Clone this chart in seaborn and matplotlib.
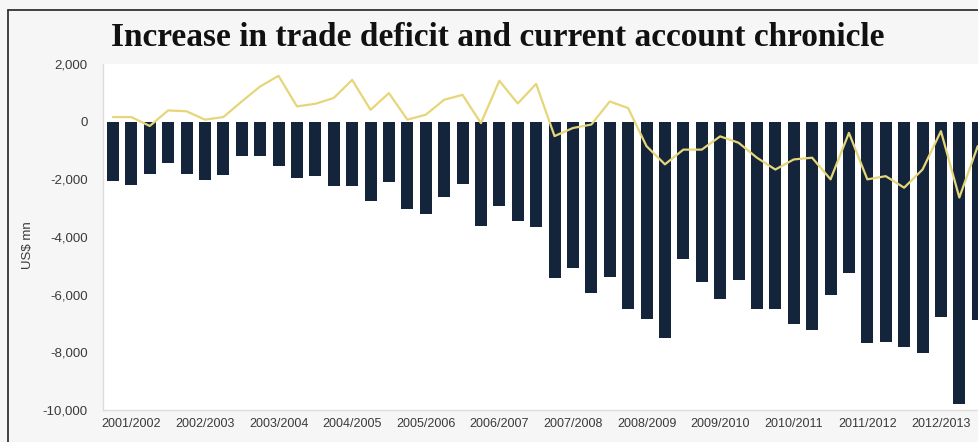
import matplotlib
matplotlib.use("Agg")
import matplotlib.pyplot as plt
import seaborn as sns
import pandas as pd
from matplotlib.lines import Line2D

# ---- data (US$ mn, quarterly) ----
years = ["2001/2002", "2002/2003", "2003/2004", "2004/2005", "2005/2006", "2006/2007",
         "2007/2008", "2008/2009", "2009/2010", "2010/2011", "2011/2012", "2012/2013"]
quarters = ["Q1", "Q2", "Q3", "Q4"]

trade_balance = [-2060, -2200, -1830, -1450, -1830, -2030, -1860, -1200,
                 -1200, -1550, -1970, -1900, -2230, -2230, -2750, -2090,
                 -3030, -3210, -2630, -2170, -3610, -2940, -3440, -3670,
                 -5420, -5080, -5930, -5390, -6500, -6860, -7490, -4760,
                 -5550, -6140, -5500, -6480, -6480, -7000, -7230, -6020,
                 -5240, -7690, -7630, -7800, -8030, -6770, -9790, -6890]

current_account = [160, 160, -150, 390, 360, 70, 160, 700,
                   1220, 1590, 530, 620, 820, 1450, 410, 990,
                   70, 240, 760, 930, -50, 1420, 630, 1310,
                   -500, -220, -100, 700, 470, -850, -1480, -970,
                   -970, -510, -730, -1250, -1660, -1310, -1250, -2000,
                   -390, -2000, -1890, -2290, -1660, -330, -2630, -850]

labels = [f"{y} {q}" for y in years for q in quarters]
df = pd.DataFrame({"pos": range(len(labels)), "period": labels,
                   "trade": trade_balance, "ca": current_account})

sns.set_theme(style="white")
plt.rcParams["font.family"] = ["Liberation Sans", "DejaVu Sans"]

W, H = 979, 442
fig = plt.figure(figsize=(W / 100, H / 100), dpi=100, facecolor="#f6f6f6")

step = 18.4
x0, x1 = -0.54, 48.0
ax = fig.add_axes([103 / W, (H - 410) / H, (x1 - x0) * step / W, (410 - 64) / H])
ax.set_facecolor("white")

sns.barplot(data=df, x="pos", y="trade", native_scale=True, color="#14243b",
            saturation=1, width=0.65, linewidth=0, ax=ax)
sns.lineplot(data=df, x="pos", y="ca", color="#e6d679", linewidth=1.6, ax=ax)

ax.set_xlim(x0, x1)
ax.set_ylim(-10000, 2000)
yt = list(range(-10000, 2001, 2000))
ax.set_yticks(yt, [f"{v:,}" for v in yt])
ax.set_xticks([1 + 4 * i for i in range(len(years))], years)
ax.set_xlabel("")
ax.set_ylabel("")

ax.tick_params(axis="y", length=3, color="#cfcfcf", labelsize=9.5, labelcolor="#3a3a3a", pad=8)
ax.tick_params(axis="x", length=0, labelsize=9, labelcolor="#3a3a3a", pad=6)
for s in ["top", "right"]:
    ax.spines[s].set_visible(False)
for s in ["left", "bottom"]:
    ax.spines[s].set_color("#dcdcdc")
    ax.spines[s].set_linewidth(1)

fig.text(28 / W, 1 - 245 / H, "US$ mn", rotation=90, ha="center", va="center",
         fontsize=9.5, color="#3a3a3a")

fig.text(498 / W, 1 - 38 / H, "Increase in trade deficit and current account chronicle",
         ha="center", va="center", fontsize=24, fontweight="bold",
         family=["Liberation Serif", "DejaVu Serif"], color="#111111")

# frame of the original picture (left and top edges)
fig.add_artist(Line2D([8 / W, 8 / W], [0, 1 - 10 / H], transform=fig.transFigure,
                      color="#333333", linewidth=1.3))
fig.add_artist(Line2D([8 / W, 1], [1 - 10 / H, 1 - 10 / H], transform=fig.transFigure,
                      color="#333333", linewidth=1.3))

fig.savefig("out.png", dpi=100, facecolor=fig.get_facecolor())
